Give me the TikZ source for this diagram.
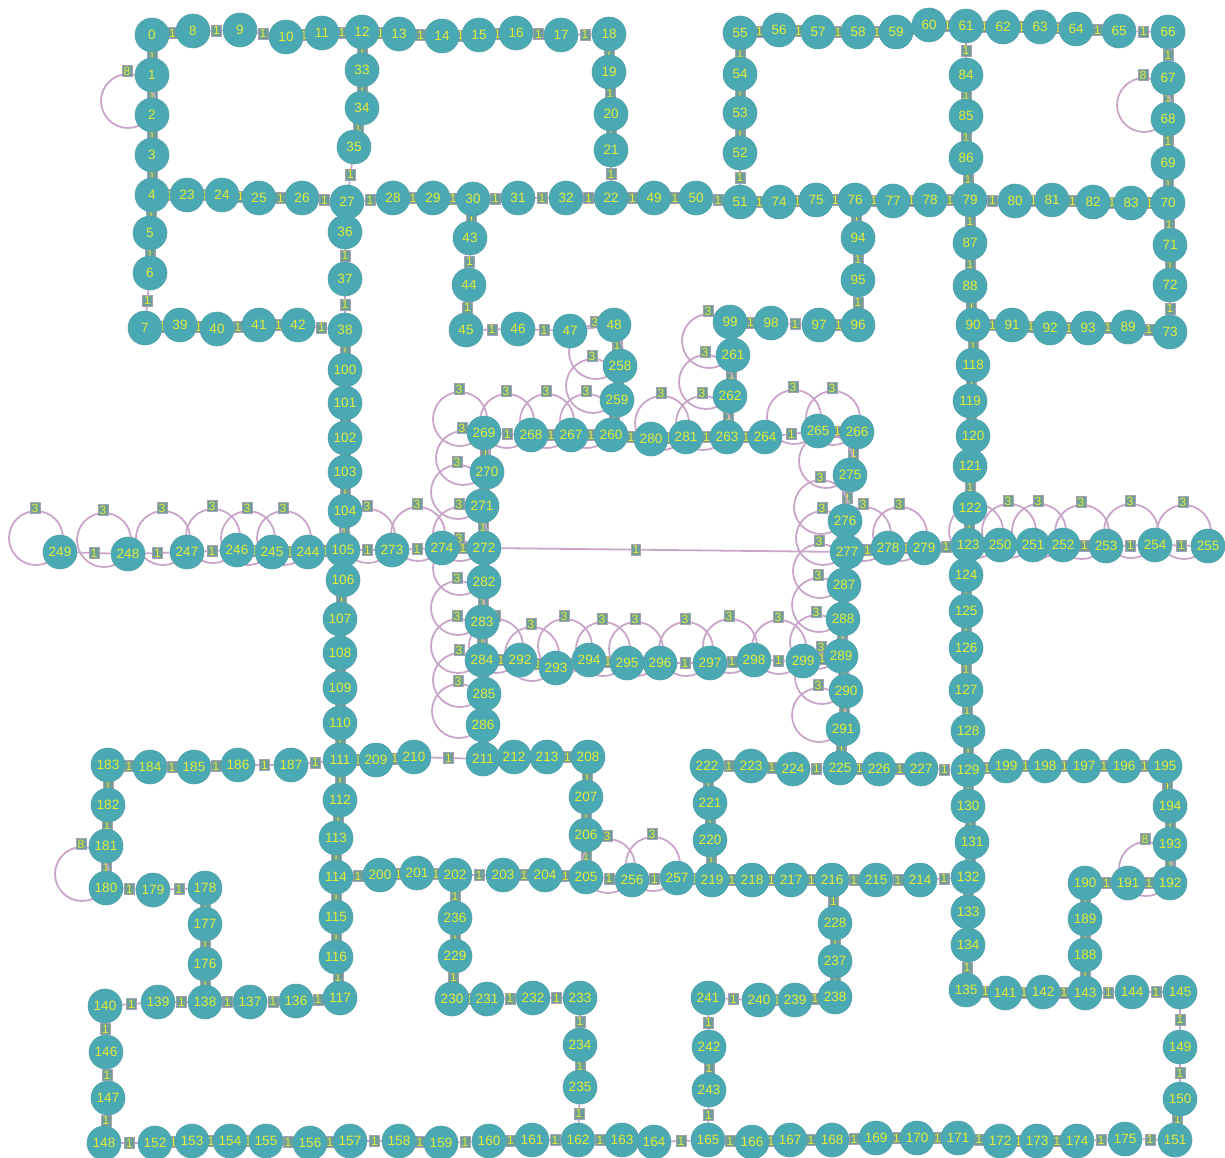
\documentclass[tikz,border=0pt]{standalone}
\usepackage{fontspec}
\setmainfont{Liberation Sans}
\definecolor{nodefill}{HTML}{4BA9B3}
\definecolor{nodetext}{HTML}{E3EA3A}
\definecolor{edgecol}{HTML}{C9A6C9}
\definecolor{lblfill}{HTML}{6E9E98}
\definecolor{lbldraw}{HTML}{A7A0B0}
\pgfdeclarelayer{background}
\pgfsetlayers{background,main}
\tikzset{
  vx/.style={circle, fill=nodefill, draw=nodefill!80!gray, line width=0.6pt, minimum size=34pt, inner sep=0pt, text=nodetext, font=\fontsize{13.5}{13.5}\selectfont},
  ed/.style={draw=edgecol, line width=1.8pt},
  lbl/.style={rectangle, fill=lblfill, draw=lbldraw, line width=0.6pt, text=nodetext, font=\fontsize{12}{12}\selectfont, inner xsep=1.5pt, inner ysep=1.5pt},
  lp/.style={draw=edgecol, line width=1.8pt}
}
\newcommand\mychain[1]{\foreach \v [count=\i, remember=\v as \u] in {#1} {\ifnum\i>1 \draw[ed] (n\u) -- node[lbl]{1} (n\v);\fi}}
\begin{document}
\begin{tikzpicture}[x=1pt,y=-1pt]
\useasboundingbox (0,0) rectangle (1225,1158);
\foreach \n/\x/\y in {
0/152/35,1/152/75,2/152/115,3/152/155,4/152/195,5/150/233,6/150/273,7/145/328,
8/193/31,9/240/30,10/286/37,11/322/33,12/362/32,13/399/34,14/442/36,15/479/35,16/516/33,17/561/35,18/609/34,
19/609/72,20/611/114,21/611/150,22/611/198,23/187/195,24/222/195,25/259/198,26/302/198,27/347/202,
28/393/198,29/433/198,30/473/199,31/518/198,32/566/198,33/362/70,34/362/108,35/354/147,36/345/232,37/345/279,38/345/330,
39/180/325,40/217/329,41/259/325,42/298/325,43/470/238,44/469/285,45/466/330,46/518/329,47/570/331,48/614/325,
49/654/198,50/696/198,51/740/202,52/740/153,53/740/113,54/740/74,55/740/33,56/779/30,57/818/32,58/858/32,59/896/32,
60/929/25,61/966/26,62/1003/27,63/1040/27,64/1076/29,65/1119/31,66/1168/32,67/1168/78,68/1168/119,69/1168/163,
70/1168/203,71/1170/245,72/1170/285,73/1170/332,74/779/202,75/816/200,76/855/200,77/893/201,78/930/200,79/970/200,
80/1015/201,81/1052/200,82/1093/202,83/1131/203,84/966/75,85/966/116,86/966/158,87/970/243,88/970/286,89/1128/327,
90/973/325,91/1012/325,92/1050/328,93/1088/328,94/858/238,95/858/280,96/858/325,97/819/325,98/771/323,99/730/322,
100/345/370,101/345/403,102/345/438,103/345/472,104/345/511,105/343/550,106/343/580,107/340/619,108/340/653,109/340/688,
110/340/723,111/340/760,112/340/800,113/336/838,114/336/877,115/336/917,116/336/957,117/340/998,
118/973/365,119/970/401,120/973/436,121/970/466,122/970/508,123/968/545,124/966/575,125/966/611,126/966/648,127/966/690,
128/968/731,129/968/770,130/968/806,131/972/842,132/968/877,133/968/912,134/968/945,135/966/990,
136/296/1001,137/250/1002,138/205/1002,139/158/1002,140/105/1006,141/1005/993,142/1043/992,143/1085/993,144/1132/992,145/1180/992,
146/106/1052,147/108/1098,148/104/1143,149/1180/1047,150/1180/1099,151/1175/1140,
152/155/1143,153/192/1141,154/230/1141,155/266/1141,156/310/1143,157/350/1141,158/399/1141,159/441/1143,160/489/1141,
161/532/1140,162/578/1140,163/622/1140,164/654/1142,165/708/1140,166/752/1142,167/790/1140,168/832/1140,169/876/1138,
170/917/1138,171/958/1138,172/1000/1141,173/1037/1141,174/1077/1141,175/1125/1139,
176/205/964,177/205/924,178/205/888,179/153/890,180/106/888,181/106/846,182/108/805,183/108/765,184/150/767,185/194/767,
186/238/765,187/291/765,188/1085/955,189/1085/919,190/1085/883,191/1128/883,192/1170/883,193/1170/844,194/1170/806,
195/1165/766,196/1124/766,197/1084/766,198/1045/766,199/1006/766,
200/380/875,201/417/873,202/455/875,203/503/875,204/545/875,205/586/877,206/586/835,207/586/797,208/588/757,
209/376/760,210/414/757,211/483/759,212/514/757,213/547/757,214/920/880,215/876/880,216/832/880,217/791/880,
218/752/880,219/712/880,220/710/840,221/710/803,222/707/766,223/751/766,224/793/769,225/840/768,226/879/769,
227/921/769,228/835/923,229/455/956,230/452/999,231/487/999,232/533/998,233/580/998,234/580/1045,235/580/1087,
236/455/918,237/835/961,238/835/997,239/795/1000,240/759/1000,241/708/998,242/709/1047,243/709/1090,
244/308/552,245/272/552,246/237/550,247/187/552,248/128/554,249/60/552,250/1000/545,251/1033/545,252/1063/545,
253/1106/546,254/1155/545,255/1208/546,256/632/880,257/677/878,258/620/366,259/617/400,260/611/435,
261/733/355,262/730/396,263/727/437,264/765/437,265/818/431,266/857/432,267/571/435,268/531/435,269/484/433,
270/487/472,271/482/506,272/484/548,273/392/550,274/442/548,275/850/475,276/845/521,277/847/552,278/888/548,
279/924/548,280/651/439,281/686/437,282/484/582,283/482/622,284/482/660,285/484/694,286/483/725,
287/844/585,288/843/619,289/841/656,290/846/691,291/843/729,292/520/660,293/556/668,294/589/660,295/627/663,
296/660/663,297/710/663,298/754/660,299/803/661}
  \node[vx] (n\n) at (\x,\y) {\n};
\begin{pgfonlayer}{background}
\mychain{0,8,9,10,11,12,13,14,15,16,17,18,19,20,21,22}
\mychain{0,1,2,3,4,5,6,7,39,40,41,42,38}
\mychain{4,23,24,25,26,27,28,29,30,31,32,22,49,50,51,74,75,76,77,78,79,80,81,82,83,70}
\mychain{12,33,34,35,27,36,37,38,100,101,102,103,104,105,106,107,108,109,110,111,112,113,114,115,116,117,136,137,138,139,140,146,147,148,152,153,154,155,156,157,158,159,160,161,162,163,164,165,166,167,168,169,170,171,172,173,174,175,151,150,149,145,144,143,142,141,135}
\mychain{30,43,44,45,46,47}
\draw[ed] (n47) -- (n48);
\mychain{48,258,259,260}
\mychain{51,52,53,54,55,56,57,58,59,60,61,62,63,64,65,66,67,68,69,70,71,72,73,89,93,92,91,90}
\mychain{61,84,85,86,79,87,88,90,118,119,120,121,122,123,124,125,126,127,128,129,130,131,132,133,134,135}
\mychain{76,94,95,96,97,98,99,261,262,263}
\mychain{249,248,247,246,245,244,105,273,274,272}
\mychain{123,250,251,252,253,254,255}
\mychain{269,268,267,260,280,281,263,264,265,266,275,276,277,287,288,289,290,291,225}
\mychain{269,270,271,272,282,283,284,285,286,211}
\mychain{284,292,293,294,295,296,297,298,299,289}
\mychain{277,278,279,123}
\mychain{183,184,185,186,187,111,209,210,211,212,213,208,207,206,205}
\mychain{114,200,201,202,203,204,205,256,257,219,218,217,216,215,214,132}
\mychain{222,223,224,225,226,227,129,199,198,197,196,195,194,193,192,191,190,189,188,143}
\mychain{222,221,220,219}
\mychain{216,228,237,238,239,240,241,242,243,165}
\mychain{202,236,229,230,231,232,233,234,235,162}
\mychain{138,176,177,178,179,180,181,182,183}
\draw[ed] (n272) -- node[lbl,pos=0.41]{1} (n277);
\foreach \n/\w in {249/3,248/3,247/3,246/3,245/3,244/3,273/3,274/3,269/3,270/3,271/3,272/3,282/3,283/3,284/3,285/3,286/3,
268/3,267/3,260/3,258/3,259/3,281/3,261/3,262/3,263/3,265/3,266/3,276/3,277/3,287/3,288/3,289/3,290/3,291/3,
278/3,279/3,292/3,293/3,294/3,295/3,296/3,297/3,298/3,299/3,251/3,252/3,253/3,254/3,255/3,256/3,257/3,
2/8,68/8,180/8,192/8}{
  \draw[lp] ([shift={(-24,-14)}]n\n.center) circle[radius=27pt];
  \node[lbl] at ([shift={(-25,-44)}]n\n.center) {\w};
}
\foreach \n in {250,275}{
  \draw[lp] ([shift={(-24,-14)}]n\n.center) circle[radius=27pt];
}
\end{pgfonlayer}
\end{tikzpicture}
\end{document}
